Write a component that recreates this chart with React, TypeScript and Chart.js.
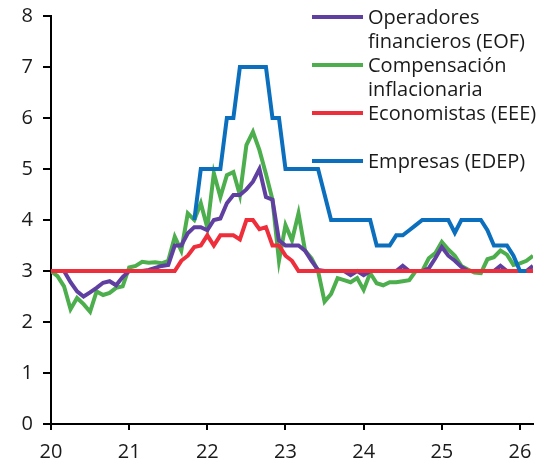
import React, { useEffect, useRef } from "react";
import { Chart, registerables } from "chart.js";

Chart.register(...registerables);

// Monthly observations, first point = January 2020 (x = 20.0)
const startYear = 20;
const xTicks = [20, 21, 22, 23, 24, 25, 26];
const yTicks = [0, 1, 2, 3, 4, 5, 6, 7, 8];

const seriesNames = [
  ["Operadores", "financieros (EOF)"],
  ["Compensación", "inflacionaria"],
  ["Economistas (EEE)"],
  ["Empresas (EDEP)"],
];
const seriesColors = ["#5f3f9f", "#4cae4c", "#ee2e3a", "#0b6fbd"];

const eof = [
  3.0, 3.0, 3.0, 2.78, 2.6, 2.5, 2.58, 2.67, 2.77, 2.8, 2.72, 2.88,
  3.0, 3.0, 3.0, 3.02, 3.06, 3.1, 3.12, 3.5, 3.5, 3.74, 3.86, 3.86,
  3.8, 4.0, 4.03, 4.33, 4.49, 4.49, 4.6, 4.75, 5.0, 4.45, 4.4, 3.6,
  3.5, 3.5, 3.5, 3.4, 3.2, 3.02, 3.0, 3.0, 3.0, 3.0, 2.92, 3.0,
  2.92, 3.0, 3.0, 3.0, 3.0, 3.0, 3.1, 3.0, 3.0, 3.0, 3.05, 3.25,
  3.47, 3.3, 3.2, 3.08, 3.0, 3.0, 3.0, 3.0, 3.0, 3.1, 3.0, 3.0,
  3.0, 3.0, 3.1,
];

const compensacion = [
  3.0, 2.9, 2.7, 2.25, 2.47, 2.35, 2.2, 2.6, 2.53, 2.57, 2.67, 2.7,
  3.07, 3.1, 3.18, 3.16, 3.17, 3.15, 3.2, 3.67, 3.4, 4.13, 4.0, 4.33,
  3.85, 4.92, 4.45, 4.88, 4.94, 4.49, 5.47, 5.73, 5.37, 4.9, 4.4, 3.2,
  3.9, 3.6, 4.13, 3.4, 3.25, 3.0, 2.4, 2.55, 2.86, 2.82, 2.78, 2.86,
  2.63, 2.96, 2.76, 2.72, 2.78, 2.78, 2.8, 2.82, 3.0, 3.0, 3.25, 3.35,
  3.57, 3.42, 3.3, 3.1, 3.03, 2.97, 2.96, 3.23, 3.27, 3.4, 3.32, 3.12,
  3.15, 3.2, 3.3,
];

const eee = [
  3.0, 3.0, 3.0, 3.0, 3.0, 3.0, 3.0, 3.0, 3.0, 3.0, 3.0, 3.0,
  3.0, 3.0, 3.0, 3.0, 3.0, 3.0, 3.0, 3.0, 3.2, 3.3, 3.47, 3.5,
  3.7, 3.5, 3.7, 3.7, 3.7, 3.62, 4.0, 4.0, 3.82, 3.86, 3.5, 3.5,
  3.3, 3.2, 3.0, 3.0, 3.0, 3.0, 3.0, 3.0, 3.0, 3.0, 3.0, 3.0,
  3.0, 3.0, 3.0, 3.0, 3.0, 3.0, 3.0, 3.0, 3.0, 3.0, 3.0, 3.0,
  3.0, 3.0, 3.0, 3.0, 3.0, 3.0, 3.0, 3.0, 3.0, 3.0, 3.0, 3.0,
  3.0, 3.0, 3.0,
];

const edep = [
  null, null, null, null, null, null, null, null, null, null, null, null,
  null, null, null, null, null, null, null, null, null, null, 4.0, 5.0,
  5.0, 5.0, 5.0, 6.0, 6.0, 7.0, 7.0, 7.0, 7.0, 7.0, 6.0, 6.0,
  5.0, 5.0, 5.0, 5.0, 5.0, 5.0, 4.5, 4.0, 4.0, 4.0, 4.0, 4.0,
  4.0, 4.0, 3.5, 3.5, 3.5, 3.7, 3.7, 3.8, 3.9, 4.0, 4.0, 4.0,
  4.0, 4.0, 3.75, 4.0, 4.0, 4.0, 4.0, 3.8, 3.5, 3.5, 3.5, 3.3,
  3.0, 3.0, null,
];

const allSeries = [eof, compensacion, eee, edep];
const drawOrder = [2, 3, 1, 0]; // lower = drawn on top

const FONT = "'Open Sans', 'Noto Sans', sans-serif";

function toPoints(values: (number | null)[]) {
  return values.map((v, i) => ({ x: startYear + i / 12, y: v }));
}

export default function App() {
  const canvasRef = useRef<HTMLCanvasElement | null>(null);

  useEffect(() => {
    document.body.style.margin = "0";
    const canvas = canvasRef.current;
    if (!canvas) return;
    const n = eof.length;
    const chart = new Chart(canvas, {
      type: "line",
      data: {
        datasets: allSeries.map((s, k) => ({
          label: seriesNames[k].join(" "),
          data: toPoints(s) as any,
          borderColor: seriesColors[k],
          backgroundColor: seriesColors[k],
          borderWidth: 4,
          pointRadius: 0,
          tension: 0,
          fill: false,
          spanGaps: false,
          order: drawOrder[k],
        })),
      },
      options: {
        animation: false,
        responsive: false,
        maintainAspectRatio: false,
        layout: { padding: { top: 16, right: 20, bottom: 0, left: 0 } },
        plugins: { legend: { display: false }, tooltip: { enabled: false } },
        scales: {
          x: {
            type: "linear",
            min: startYear,
            max: startYear + (n - 1) / 12,
            afterBuildTicks: (s: any) => {
              s.ticks = xTicks.map((v) => ({ value: v }));
            },
            afterFit: (s: any) => {
              s.height = 37;
              s.paddingLeft = 0;
              s.paddingRight = 0;
            },
            border: { display: true, color: "#000", width: 2 },
            grid: {
              display: true,
              drawOnChartArea: false,
              drawTicks: true,
              tickLength: 6,
              color: "#000",
              lineWidth: 2,
            },
            ticks: {
              font: { family: FONT, size: 20 },
              color: "#1a1a1a",
              padding: 10,
              maxRotation: 0,
              autoSkip: false,
              callback: (v: any) => String(v),
            },
          },
          y: {
            min: 0,
            max: 8,
            afterBuildTicks: (s: any) => {
              s.ticks = yTicks.map((v) => ({ value: v }));
            },
            afterFit: (s: any) => {
              s.width = 51;
              s.paddingTop = 0;
              s.paddingBottom = 0;
            },
            border: { display: true, color: "#000", width: 2 },
            grid: {
              display: true,
              drawOnChartArea: false,
              drawTicks: true,
              tickLength: 8,
              color: "#000",
              lineWidth: 2,
            },
            ticks: {
              font: { family: FONT, size: 20 },
              color: "#1a1a1a",
              padding: 10,
              callback: (v: any) => String(v),
            },
          },
        },
      },
    });
    return () => chart.destroy();
  }, []);

  const itemTops = [5, 53, 101, 149];

  return (
    <div style={{ position: "relative", width: 553, height: 461, background: "#fff" }}>
      <canvas ref={canvasRef} width={553} height={461} style={{ display: "block" }} />
      {seriesNames.map((lines, k) => (
        <div key={k}>
          <div
            style={{
              position: "absolute",
              left: 312,
              top: itemTops[k] + 10,
              width: 51,
              height: 4,
              background: seriesColors[k],
            }}
          />
          <div
            style={{
              position: "absolute",
              left: 368,
              top: itemTops[k],
              fontFamily: FONT,
              fontSize: 20,
              lineHeight: "24px",
              color: "#1a1a1a",
              whiteSpace: "nowrap",
            }}
          >
            {lines.map((t, j) => (
              <div key={j}>{t}</div>
            ))}
          </div>
        </div>
      ))}
    </div>
  );
}
